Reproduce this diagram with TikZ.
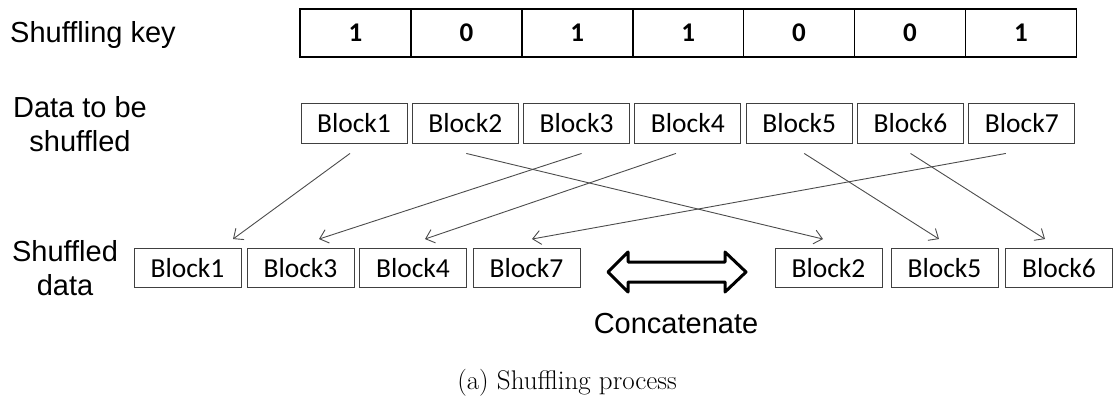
\documentclass[tikz,border=0pt]{standalone}
\usepackage{fontspec}
\newfontfamily\calibri{Carlito}
\newfontfamily\arial{Liberation Sans}
\usetikzlibrary{arrows.meta}
\begin{document}
\begin{tikzpicture}[x=1pt,y=-1pt,
  keycell/.style={draw=black,line width=1.6pt,minimum width=110.9pt,minimum height=48pt,inner sep=0pt,
    font=\calibri\bfseries\fontsize{27}{32}\selectfont},
  blk/.style={draw=black!75,line width=0.9pt,minimum width=106pt,minimum height=40pt,inner sep=0pt,
    font=\calibri\fontsize{27.5}{32}\selectfont},
  blkb/.style={blk,minimum width=107pt,minimum height=39pt},
  lbl/.style={font=\arial\fontsize{29}{34}\selectfont,inner sep=0pt,align=center},
  arr/.style={draw=black!70,line width=0.9pt,-{Straight Barb[length=8pt,width=14pt]}},
  dblarrow/.style={draw=black,line width=3pt,line join=round,fill=white}]
\useasboundingbox (0,0) rectangle (1115,398);

% labels
\node[lbl,anchor=base west] (lkey) at (10,43) {Shuffling key};
\node[lbl] (ldata) at (80,124.5) {Data to be\\shuffled};
\node[lbl] (lshuf) at (65,268) {Shuffled\\data};

% key cells
\foreach \v [count=\i] in {1,0,1,1,0,0,1}
  \node[keycell] (k\i) at ({355.45+110.9*(\i-1)},33) {\v};

% data to be shuffled
\foreach \i in {1,...,7}
  \node[blk] (t\i) at ({354+111.3*(\i-1)},123) {Block\i};

% shuffled data
\node[blkb] (b1) at (187.5,268) {Block1};
\node[blkb] (b3) at (300.5,268) {Block3};
\node[blkb] (b4) at (413,268) {Block4};
\node[blkb] (b7) at (526.5,268) {Block7};
\node[blkb] (b2) at (828.5,268) {Block2};
\node[blkb] (b5) at (944.5,268) {Block5};
\node[blkb] (b6) at (1059,268) {Block6};

% connectors
\draw[arr] ([xshift=-4pt,yshift=-10pt]t1.south) -- ([xshift=45.5pt,yshift=9pt]b1.north);
\draw[arr] ([xshift=1pt,yshift=-10pt]t2.south) -- ([xshift=-5.5pt,yshift=9pt]b2.north);
\draw[arr] ([xshift=5pt,yshift=-10pt]t3.south) -- ([xshift=18.5pt,yshift=9pt]b3.north);
\draw[arr] ([xshift=-12pt,yshift=-10pt]t4.south) -- ([xshift=12pt,yshift=9pt]b4.north);
\draw[arr] ([xshift=5pt,yshift=-10pt]t5.south) -- ([xshift=-5.5pt,yshift=9pt]b5.north);
\draw[arr] ([xshift=0pt,yshift=-10pt]t6.south) -- ([xshift=-14pt,yshift=9pt]b6.north);
\draw[arr] ([xshift=-16pt,yshift=-10pt]t7.south) -- ([xshift=5.5pt,yshift=9pt]b7.north);

% concatenate double arrow
\draw[dblarrow] (608,272) -- (628,252) -- (628,262) -- (725,262) -- (725,252) -- (746,272)
  -- (725,292) -- (725,282) -- (628,282) -- (628,292) -- cycle;
\node[lbl] (lconc) at (676,324) {Concatenate};

% caption
\node[font=\fontsize{27}{32}\selectfont,inner sep=0pt] (cap) at (567,383) {(a) Shuffling process};
\end{tikzpicture}
\end{document}
